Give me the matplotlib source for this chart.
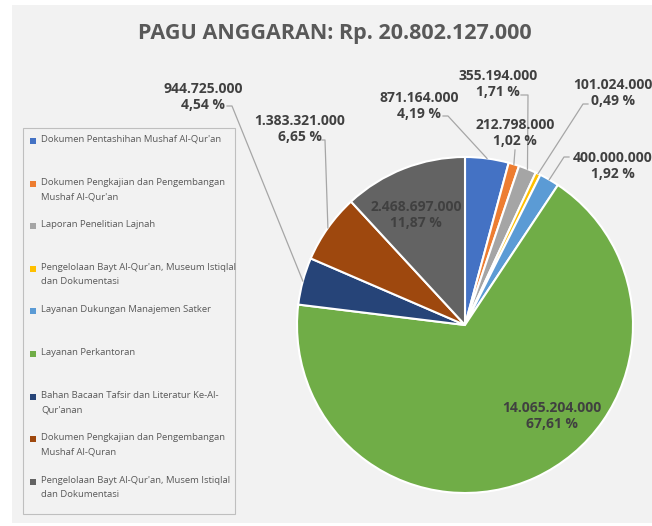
import numpy as np
import matplotlib.pyplot as plt
from matplotlib.patches import Rectangle
from matplotlib.lines import Line2D

W, H = 652, 526

title = "PAGU ANGGARAN: Rp. 20.802.127.000"

categories = [
    "Dokumen Pentashihan Mushaf Al-Qur'an",
    "Dokumen Pengkajian dan Pengembangan\nMushaf Al-Qur'an",
    "Laporan Penelitian Lajnah",
    "Pengelolaan Bayt Al-Qur'an, Museum Istiqlal\ndan Dokumentasi",
    "Layanan Dukungan Manajemen Satker",
    "Layanan Perkantoran",
    "Bahan Bacaan Tafsir dan Literatur Ke-Al-\nQur'anan",
    "Dokumen Pengkajian dan Pengembangan\nMushaf Al-Quran",
    "Pengelolaan Bayt Al-Qur'an, Musem Istiqlal\ndan Dokumentasi",
]
values = [871164000, 212798000, 355194000, 101024000, 400000000,
          14065204000, 944725000, 1383321000, 2468697000]
colors = ["#4472C4", "#ED7D31", "#A5A5A5", "#FFC000", "#5B9BD5",
          "#70AD47", "#264478", "#9E480E", "#636363"]

# where the data labels sit (pixels from top-left) and their leader elbows
label_xy = [(419, 106), (515, 133), (498, 84), (613, 93), (613, 166),
            (552, 416), (203, 97), (300, 129), (416, 215)]
leader_pts = [[(443, 116), (448, 116)], [(515, 150)], [(521, 95), (528, 95)],
              [(588, 104), (583, 104)], [(569, 157), (564, 157)], None,
              [(227, 106), (232, 106)], [(322, 140), (325, 140)], None]


def ff(x, y):
    return x / W, 1 - y / H


fig = plt.figure(figsize=(W / 100, H / 100), dpi=100)
fig.patch.set_facecolor("white")
fig.add_artist(Rectangle(ff(12, 523), (W - 12) / W, 518 / H, transform=fig.transFigure,
                         facecolor="#f2f2f2", edgecolor="none", zorder=0))

cx, cy, r = 465, 325, 168
ax = fig.add_axes([(cx - r) / W, (H - cy - r) / H, 2 * r / W, 2 * r / H])
ax.set_facecolor("none")
wedges, _ = ax.pie(values, colors=colors, startangle=90, counterclock=False,
                   wedgeprops=dict(edgecolor="white", linewidth=1.5))
ax.set_xlim(-1, 1)
ax.set_ylim(-1, 1)
ax.set_aspect("auto")
ax.axis("off")

fig.text(*ff(335, 34), title, ha="center", va="center", fontsize=15.5,
         fontweight="bold", color="#595959", family="Open Sans")

total = sum(values)
to_fig = ax.transData + fig.transFigure.inverted()
for i, w in enumerate(wedges):
    v = values[i]
    txt = f"{v:,}".replace(",", ".") + "\n" + f"{v / total * 100:.2f} %".replace(".", ",")
    fig.text(*ff(*label_xy[i]), txt, ha="center", va="center", fontsize=10,
             fontweight="bold", color="#404040", family="Open Sans", linespacing=1.25,
             zorder=5)
    if leader_pts[i] is not None:
        mid = np.deg2rad((w.theta1 + w.theta2) / 2)
        end = to_fig.transform((np.cos(mid), np.sin(mid)))
        pts = [ff(*p) for p in leader_pts[i]] + [tuple(end)]
        xs, ys = zip(*pts)
        fig.add_artist(Line2D(xs, ys, transform=fig.transFigure, color="#a6a6a6", lw=0.9))

# legend box drawn by hand to keep the fixed row spacing
fig.add_artist(Rectangle(ff(23, 514), 212 / W, 386 / H, transform=fig.transFigure,
                         facecolor="#f2f2f2", edgecolor="#bfbfbf", lw=0.8))
for i, name in enumerate(categories):
    y = 141 + i * 42.6
    fig.add_artist(Rectangle(ff(30, y + 3), 6 / W, 6 / H, transform=fig.transFigure,
                             facecolor=colors[i], edgecolor="none"))
    fig.text(*ff(41, y - 6), name, ha="left", va="top", fontsize=6.8,
             color="#595959", family="Open Sans", linespacing=1.8)

fig.savefig("out.png", dpi=100)
